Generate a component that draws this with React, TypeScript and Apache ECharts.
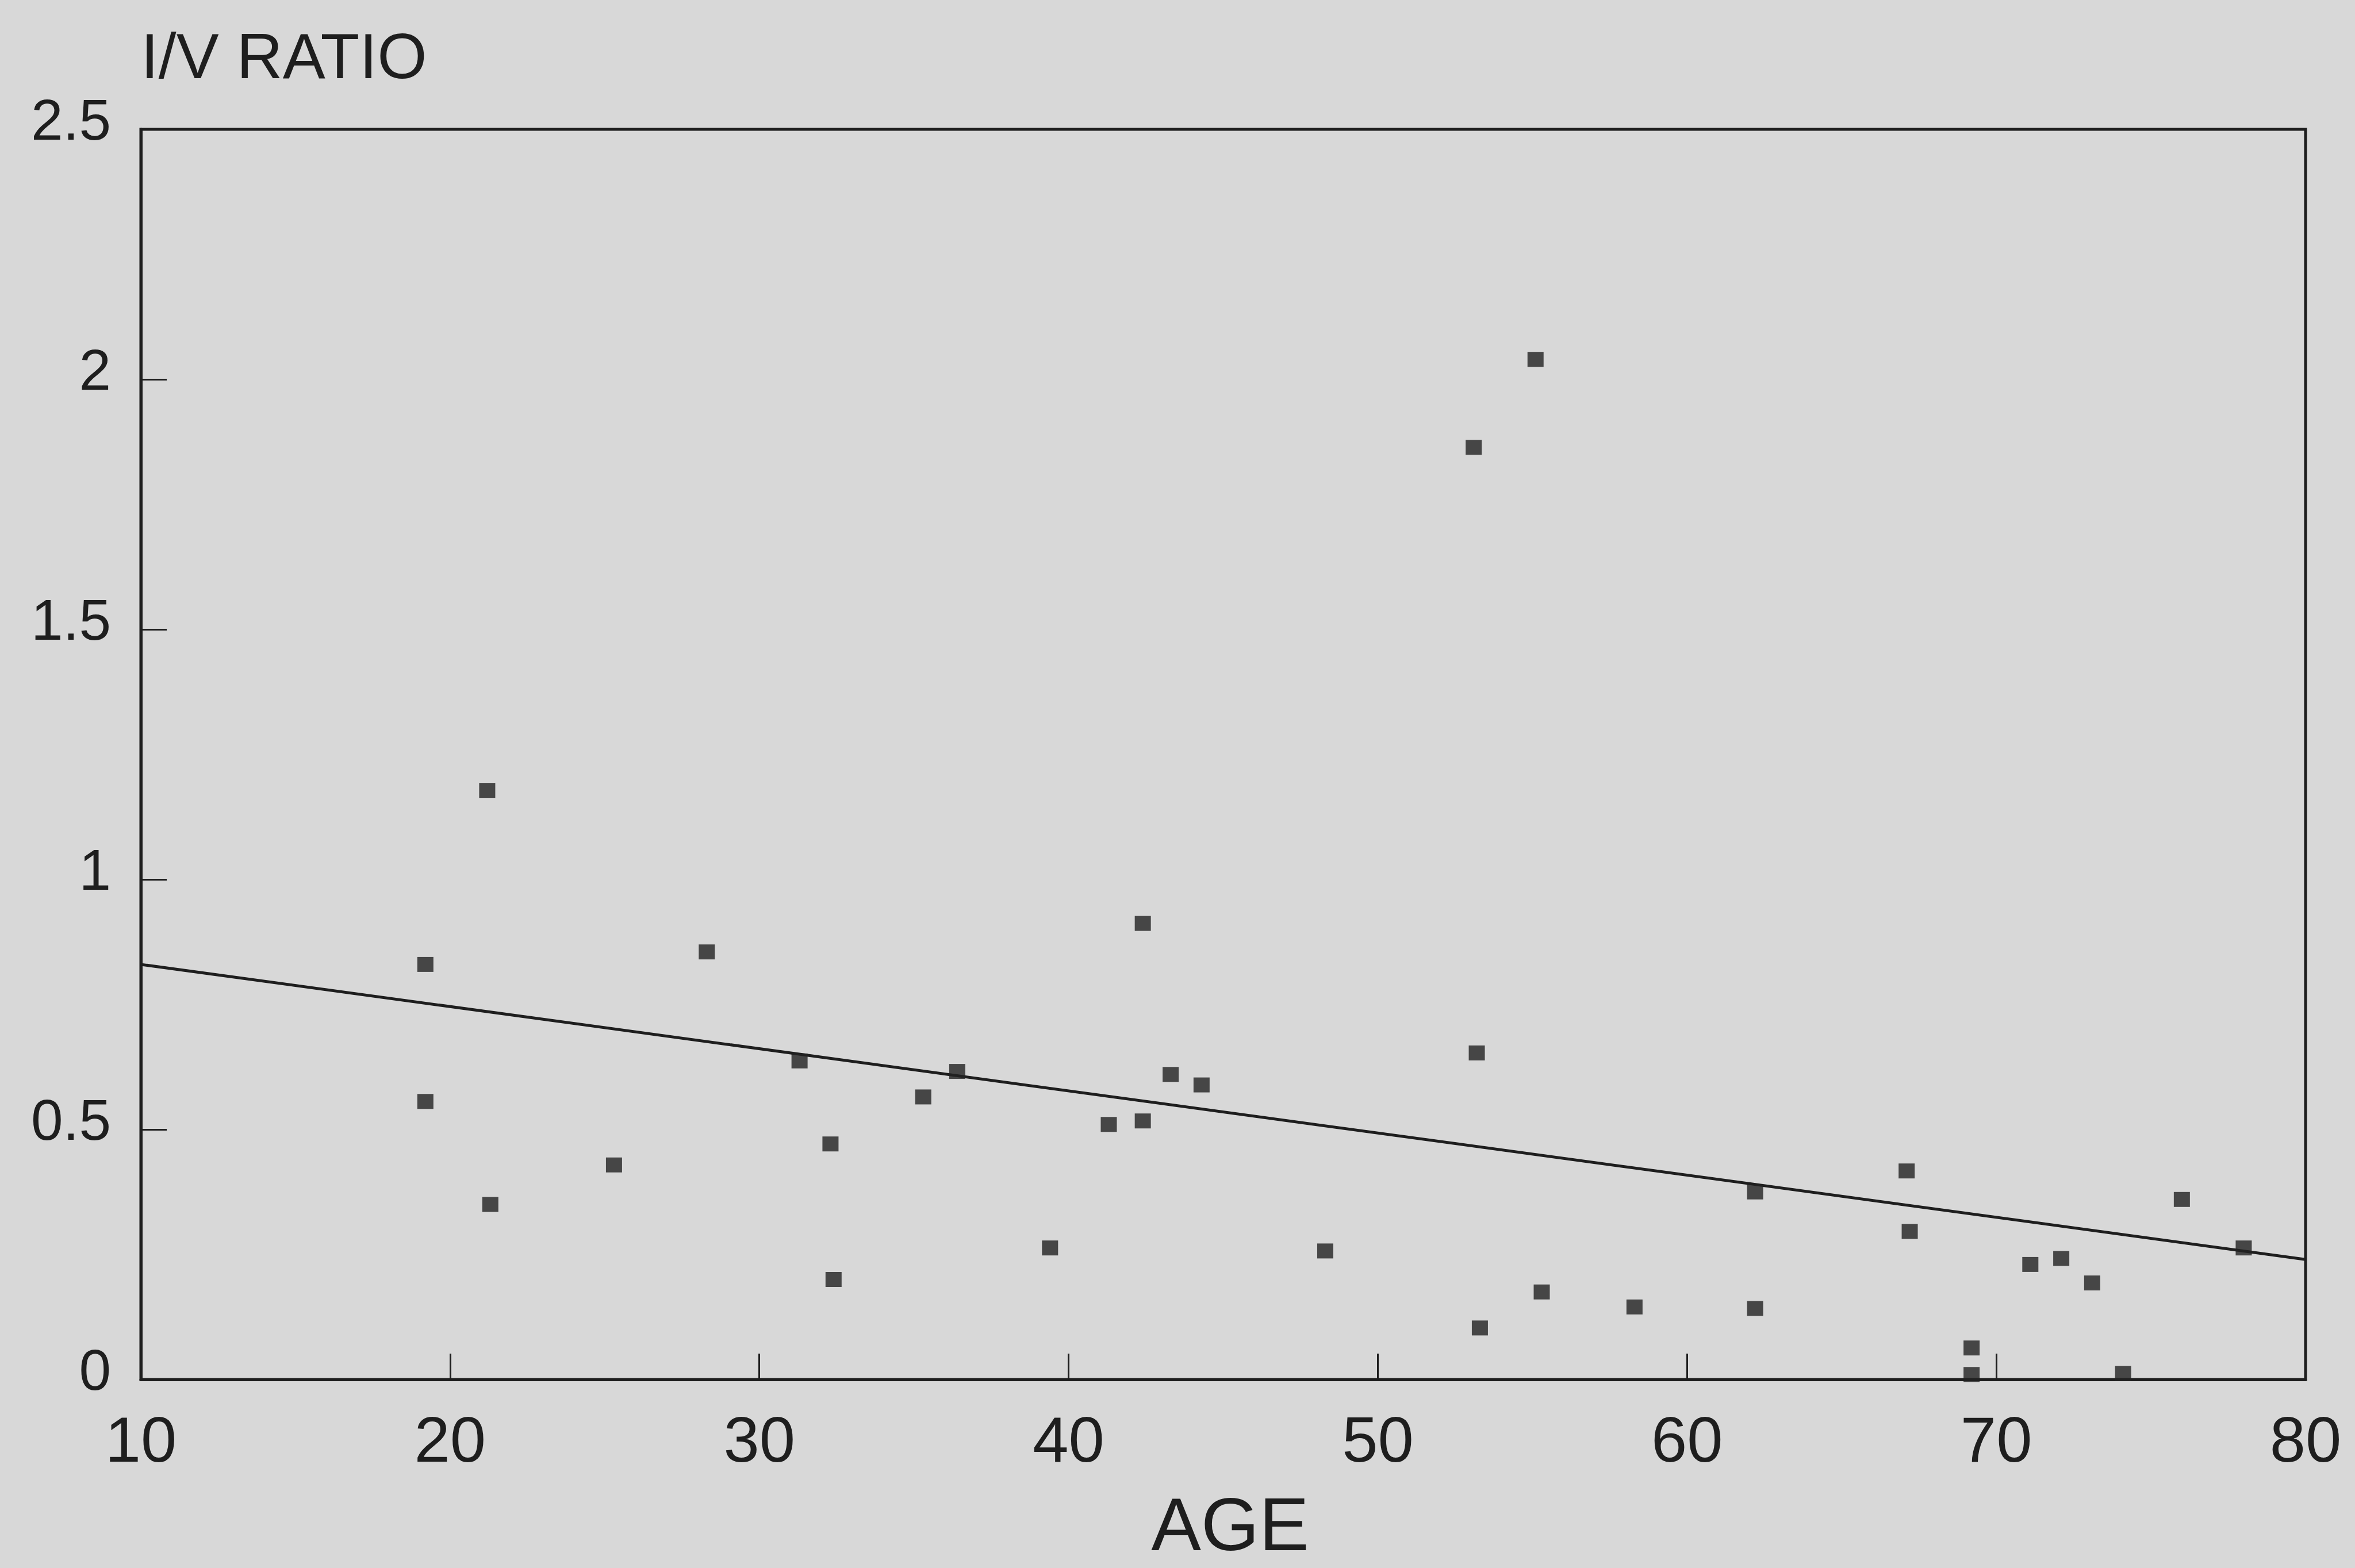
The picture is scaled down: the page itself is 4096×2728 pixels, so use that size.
import React, { useEffect, useRef } from "react";
import * as echarts from "echarts";

// Scatter data: age (years) and I/V ratio
const ages = [
  19.2, 19.2, 21.2, 21.3, 25.3, 28.3, 31.3, 32.3, 32.4, 35.3, 36.4, 39.4,
  41.3, 42.4, 42.4, 43.3, 44.3, 48.3, 53.1, 53.2, 53.3, 55.1, 55.3, 58.3,
  62.2, 62.2, 67.1, 67.2, 69.2, 69.2, 71.1, 72.1, 73.1, 74.1, 76.0, 78.0,
];
const ratios = [
  0.83, 0.556, 1.178, 0.35, 0.429, 0.855, 0.637, 0.471, 0.2, 0.565, 0.616, 0.263,
  0.51, 0.517, 0.912, 0.61, 0.589, 0.257, 1.864, 0.653, 0.103, 2.04, 0.175, 0.145,
  0.375, 0.142, 0.417, 0.296, 0.063, 0.01, 0.23, 0.242, 0.193, 0.012, 0.36, 0.263,
];

// Regression line end points
const fitAges = [10, 80];
const fitRatios = [0.83, 0.24];

// Axis ranges
const xMin = 10;
const xMax = 80;
const xStep = 10;
const yMin = 0;
const yMax = 2.5;
const yStep = 0.5;

const INK = "#1e1e1e";
const PAPER = "#d8d8d8";
const FONT = "'Liberation Sans', Arial, sans-serif";

export default function App() {
  const ref = useRef<HTMLDivElement | null>(null);

  useEffect(() => {
    if (!ref.current) return;
    const chart = echarts.init(ref.current, undefined, { renderer: "svg" });
    const points = ages.map((a, i) => [a, ratios[i]]);
    const fit = fitAges.map((a, i) => [a, fitRatios[i]]);

    chart.setOption({
      animation: false,
      backgroundColor: PAPER,
      grid: {
        left: 245,
        right: 86,
        top: 225,
        bottom: 328,
        show: true,
        borderColor: INK,
        borderWidth: 5,
        backgroundColor: "transparent",
      },
      xAxis: {
        type: "value",
        min: xMin,
        max: xMax,
        interval: xStep,
        name: "AGE",
        nameLocation: "middle",
        nameGap: 252,
        nameTextStyle: {
          fontFamily: FONT,
          fontSize: 130,
          lineHeight: 104,
          color: INK,
          align: "center",
          verticalAlign: "middle",
          padding: [0, 0, 0, 24],
        },
        axisLine: { show: true, lineStyle: { color: INK, width: 5 } },
        axisTick: { show: true, inside: true, length: 45, lineStyle: { color: INK, width: 3 } },
        axisLabel: {
          fontFamily: FONT,
          fontSize: 112,
          lineHeight: 112,
          color: INK,
          margin: 48,
        },
        splitLine: { show: false },
      },
      yAxis: {
        type: "value",
        min: yMin,
        max: yMax,
        interval: yStep,
        name: "I/V RATIO",
        nameLocation: "end",
        nameGap: 127,
        nameTextStyle: {
          fontFamily: FONT,
          fontSize: 111,
          color: INK,
          align: "left",
          verticalAlign: "middle",
        },
        axisLine: { show: true, lineStyle: { color: INK, width: 5 } },
        axisTick: { show: true, inside: true, length: 45, lineStyle: { color: INK, width: 3 } },
        axisLabel: {
          fontFamily: FONT,
          fontSize: 100,
          lineHeight: 34,
          verticalAlign: "bottom",
          color: INK,
          margin: 52,
        },
        splitLine: { show: false },
      },
      series: [
        {
          type: "line",
          data: fit,
          symbol: "none",
          lineStyle: { color: INK, width: 5 },
          z: 2,
        },
        {
          type: "scatter",
          data: points,
          symbol: "rect",
          symbolSize: [28, 26],
          itemStyle: { color: "#222222" },
          z: 3,
        },
      ],
    });

    return () => {
      chart.dispose();
    };
  }, []);

  return (
    <div
      ref={ref}
      style={{
        position: "fixed",
        left: 0,
        top: 0,
        width: 4096,
        height: 2728,
        background: PAPER,
      }}
    />
  );
}
